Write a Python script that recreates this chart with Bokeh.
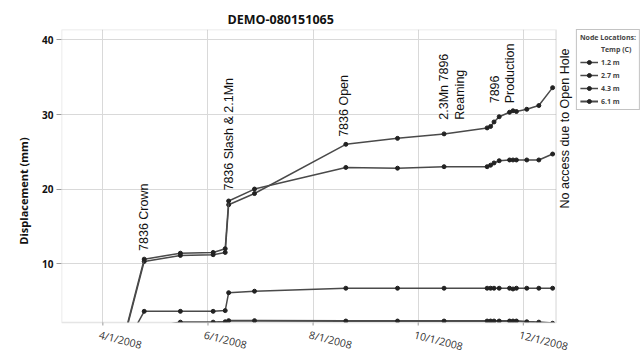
import math
import pandas as pd
from bokeh.plotting import figure
from bokeh.models import (Range1d, FixedTicker, Legend, LegendItem, Label,
                          ColumnDataSource, BoxAnnotation, Title)
from bokeh.embed import file_html
from bokeh.resources import INLINE

# ---------------- data ----------------
title_text = "DEMO-080151065"
y_label = "Displacement (mm)"

dates = ["2008-04-10", "2008-04-25", "2008-05-16", "2008-06-04", "2008-06-11",
         "2008-06-13", "2008-06-28", "2008-08-20", "2008-09-19", "2008-10-16",
         "2008-11-10", "2008-11-12", "2008-11-14", "2008-11-17", "2008-11-23",
         "2008-11-25", "2008-11-27", "2008-12-03", "2008-12-10", "2008-12-18"]

node_1_2 = [-3.0, 10.3, 11.1, 11.2, 11.5, 17.9, 19.4, 26.0, 26.8, 27.4,
            28.2, 28.4, 29.0, 29.7, 30.3, 30.5, 30.4, 30.7, 31.2, 33.6]
node_2_7 = [-2.8, 10.6, 11.4, 11.5, 12.0, 18.4, 20.0, 22.9, 22.8, 23.0,
            23.0, 23.2, 23.5, 23.8, 23.9, 23.9, 23.9, 23.9, 23.9, 24.7]
node_4_3 = [-2.7, 3.6, 3.6, 3.6, 3.7, 6.1, 6.3, 6.7, 6.7, 6.7,
            6.7, 6.7, 6.7, 6.7, 6.7, 6.6, 6.7, 6.7, 6.7, 6.7]
node_6_1 = [-1.0, 1.2, 2.15, 2.15, 2.2, 2.35, 2.35, 2.3, 2.3, 2.3,
            2.3, 2.3, 2.3, 2.3, 2.3, 2.3, 2.3, 2.2, 2.15, 2.0]

legend_title = "Node Locations:"
series_names = ["Temp (C)", "1.2 m", "2.7 m", "4.3 m", "6.1 m"]

tick_dates = ["2008-04-01", "2008-06-01", "2008-08-01", "2008-10-01", "2008-12-01"]
tick_labels = ["4/1/2008", "6/1/2008", "8/1/2008", "10/1/2008", "12/1/2008"]
y_ticks = [10, 20, 30, 40]

x_start, x_axis_end = "2008-03-08", "2008-12-20"   # plotted time window
x_canvas_end = "2009-02-07"                         # room for side note / legend
y_start, y_end = 2.1, 41.4                          # plotted value window
y_canvas_floor = -1.92                              # room for the date labels
tick_len = 0.4

# event annotations: (text, date, value)
events = [("7836 Crown", "2008-04-25", 11.7),
          ("7836 Slash & 2.1Mn", "2008-06-13", 19.8),
          ("7836 Open", "2008-08-19", 27.0),
          ("2.3Mn 7896", "2008-10-16", 29.3),
          ("Reaming", "2008-10-25", 29.3),
          ("7896", "2008-11-14", 31.5),
          ("Production", "2008-11-23", 31.5),
          ("No access due to Open Hole", "2008-12-25", 17.4)]


def ms(d):
    return pd.Timestamp(d).timestamp() * 1000.0


# ---------------- figure ----------------
p = figure(width=640, height=352, output_backend="svg", toolbar_location=None,
           x_axis_type="datetime",
           x_range=Range1d(ms(x_start), ms(x_canvas_end)),
           y_range=Range1d(y_canvas_floor, y_end),
           min_border_left=61, min_border_right=0, min_border_top=29,
           min_border_bottom=0)

p.title.text = title_text
p.title.align = "left"
p.title.offset = 166
p.title.text_font = "Open Sans"
p.title.text_font_size = "12.5px"
p.title.text_font_style = "bold"
p.title.text_color = "#111111"
p.title.standoff = 4

p.outline_line_color = None
p.background_fill_color = "white"
p.border_fill_color = "white"

# x axis: ticker only drives the vertical grid; labels drawn below the window
p.xaxis.visible = False
p.xgrid.ticker = FixedTicker(ticks=[ms(d) for d in tick_dates])

p.yaxis.ticker = FixedTicker(ticks=y_ticks)
p.yaxis.major_label_text_font = "Open Sans"
p.yaxis.major_label_text_font_size = "10px"
p.yaxis.major_label_text_font_style = "bold"
p.yaxis.major_label_text_color = "#111111"
p.yaxis.major_label_standoff = 3
p.yaxis.major_tick_out = 5
p.yaxis.major_tick_in = 0
p.yaxis.minor_tick_line_color = None
p.yaxis.axis_line_color = None
p.yaxis.major_tick_line_color = "#9a9a9a"

p.add_layout(Title(text=y_label, align="center", offset=14,
                   text_font="Open Sans", text_font_size="11px",
                   text_font_style="bold", text_color="#111111",
                   standoff=18), "left")

p.xgrid.grid_line_color = "#d9d9d9"
p.ygrid.grid_line_color = "#d9d9d9"

# ---------------- series ----------------
x_vals = [pd.Timestamp(d) for d in dates]
series_values = [None, node_1_2, node_2_7, node_4_3, node_6_1]
widths = [1.5, 1.5, 1.5, 1.5, 2.0]

items = []
for name, vals, w in zip(series_names, series_values, widths):
    if vals is None:
        src = ColumnDataSource(data=dict(x=[], y=[]))
    else:
        src = ColumnDataSource(data=dict(x=x_vals, y=vals))
    r1 = p.line("x", "y", source=src, line_color="#4a4a4a", line_width=w)
    r2 = p.scatter("x", "y", source=src, size=4, marker="circle",
                   fill_color="#222222", line_color="#222222")
    items.append(LegendItem(label=name, renderers=[r1, r2]))

# blank out areas outside the plotted window, then draw the window border
p.add_layout(BoxAnnotation(left=ms(x_axis_end), fill_color="white", fill_alpha=1.0,
                           line_color=None))
p.add_layout(BoxAnnotation(top=y_start, fill_color="white", fill_alpha=1.0,
                           line_color=None))
p.add_layout(BoxAnnotation(left=ms(x_start), right=ms(x_axis_end),
                           bottom=y_start, top=y_end,
                           fill_alpha=0.0, line_color="#a8a8a8", line_width=1.6))

# x tick marks and date labels
tick_ms = [ms(d) for d in tick_dates]
p.segment(x0=tick_ms, x1=tick_ms, y0=[y_start] * len(tick_ms),
          y1=[y_start - tick_len] * len(tick_ms),
          line_color="#9a9a9a", line_width=1, level="overlay")
for t, lab in zip(tick_ms, tick_labels):
    p.add_layout(Label(x=t, y=y_start, text=lab, angle=-0.25,
                       x_offset=-2, y_offset=-5,
                       text_align="left", text_baseline="top",
                       text_font="Open Sans", text_font_size="10.5px",
                       text_color="#333333"))

legend = Legend(items=items, location="top_right", title=legend_title,
                title_text_font="Open Sans", title_text_font_size="7px",
                title_text_font_style="bold", title_standoff=2,
                label_text_font="Open Sans", label_text_font_size="7px",
                label_text_font_style="bold", label_height=10,
                glyph_height=10, glyph_width=18, label_standoff=3,
                spacing=3, padding=3, margin=0,
                border_line_color="#888888", border_line_width=1,
                background_fill_color="white", background_fill_alpha=1.0)
p.add_layout(legend)

# ---------------- annotations ----------------
for text, d, v in events:
    p.add_layout(Label(x=ms(d), y=v, text=text, angle=math.pi / 2,
                       text_align="left", text_baseline="middle",
                       text_font="Liberation Sans", text_font_size="12.5px",
                       text_color="#111111"))

open("out.html", "w").write(file_html(p, INLINE))
